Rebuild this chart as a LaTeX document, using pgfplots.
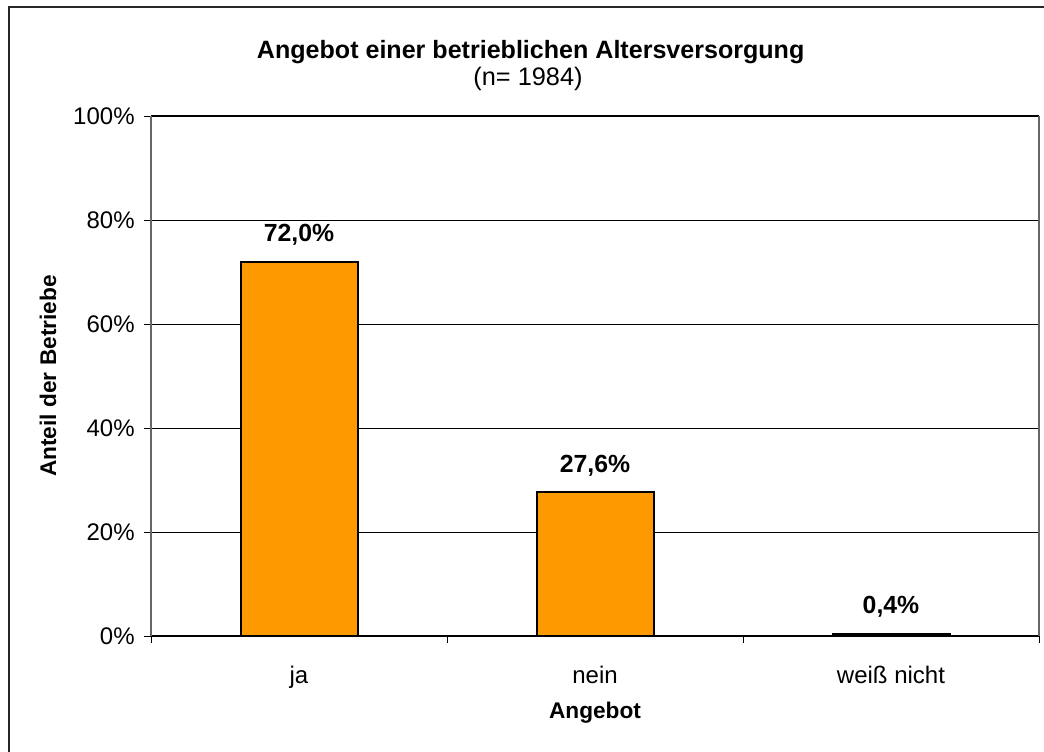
\documentclass[border=0pt]{standalone}
\usepackage{fontspec}
\setmainfont{Liberation Sans}
\usepackage{pgfplots}
\pgfplotsset{compat=1.18}
\definecolor{barorange}{RGB}{255,153,0}
\begin{document}
\begin{tikzpicture}
\useasboundingbox (0,0) rectangle (783pt,563.25pt);
\clip (0,0) rectangle (783pt,563.25pt);
\draw[line width=1.5pt, black!85] (6.75pt,-5pt) -- (6.75pt,558pt) -- (800pt,558pt);
\begin{axis}[
  at={(113.25pt,86.25pt)}, anchor=south west,
  width=666pt, height=390pt, scale only axis,
  xmin=-0.5, xmax=2.5, ymin=0, ymax=100,
  separate axis lines,
  x axis line style={black, line width=0.9pt},
  y axis line style={black!60, line width=1.5pt},
  ymajorgrids, grid style={black, line width=0.75pt},
  xtick pos=bottom, ytick pos=left,
  xtick={0,1,2}, xticklabels={ja, nein, wei\ss{} nicht},
  major x tick style={draw=none},
  minor xtick={-0.5,0.5,1.5,2.5},
  ytick={0,20,40,60,80,100},
  yticklabel={\pgfmathprintnumber{\tick}\%},
  /pgf/number format/assume math mode=true,
  tick align=outside, major tick length=5.25pt, minor tick length=5.25pt,
  tick style={black, line width=0.75pt},
  x tick style={black, line width=0.75pt},
  tick label style={font=\fontsize{18}{20}\selectfont},
  xticklabel style={anchor=base, yshift=-30.5pt},
  yticklabel style={anchor=east, xshift=-3.5pt},
  xlabel={Angebot}, ylabel={Anteil der Betriebe},
  label style={font=\bfseries\fontsize{17}{20}\selectfont},
  xlabel style={at={(axis description cs:0.5,-0.158)}, anchor=base},
  ylabel style={at={(axis description cs:-0.116,0.5)}, anchor=center},
]
\addplot[ybar, bar width=87.75pt, fill=barorange, draw=black, line width=1.5pt,
  nodes near coords={\pgfmathprintnumber[fixed,fixed zerofill,precision=1,use comma]{\pgfplotspointmeta}\%},
  every node near coord/.append style={font=\bfseries\fontsize{18.6}{20}\selectfont, anchor=base, yshift=15pt, black}]
  coordinates {(0,72.0) (1,27.6) (2,0.4)};
\end{axis}
\node[font=\bfseries\fontsize{18.8}{22}\selectfont, anchor=base] at (398pt,519pt) {Angebot einer betrieblichen Altersversorgung};
\node[font=\fontsize{19}{22}\selectfont, anchor=base] at (396pt,499pt) {(n= 1984)};
\end{tikzpicture}
\end{document}
